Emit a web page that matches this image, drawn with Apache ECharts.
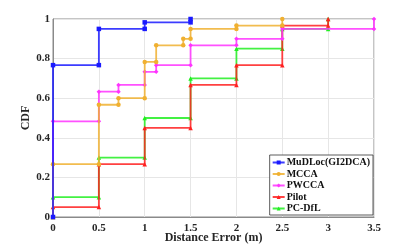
<!DOCTYPE html>
<html><head><meta charset="utf-8">
<script src="https://cdn.jsdelivr.net/npm/echarts@6/dist/echarts.min.js"></script>
<style>html,body{margin:0;padding:0;background:#fff}#c{width:415px;height:244px}</style>
</head><body><div id="c"></div>
<script>
const seriesNames = ['MuDLoc(GI2DCA)', 'MCCA', 'PWCCA', 'Pilot', 'PC-DfL'];
const xTicks = [0, 0.5, 1, 1.5, 2, 2.5, 3, 3.5];
const yTicks = [0, 0.2, 0.4, 0.6, 0.8, 1];
// staircase vertices: x (distance error, m) and y (CDF)
const mudlocX = [0, 0, 0.5, 0.5, 1, 1, 1.5, 1.5];
const mudlocY = [0, 0.767, 0.767, 0.95, 0.95, 0.983, 0.983, 1];
const mccaX = [0, 0, 0.5, 0.5, 0.714, 0.714, 1, 1, 1.125, 1.125, 1.42, 1.42, 1.5, 1.5, 2, 2, 2.5, 2.5];
const mccaY = [0, 0.267, 0.267, 0.567, 0.567, 0.6, 0.6, 0.783, 0.783, 0.867, 0.867, 0.9, 0.9, 0.95, 0.95, 0.967, 0.967, 1];
const pwccaX = [0, 0, 0.5, 0.5, 0.714, 0.714, 1, 1, 1.125, 1.125, 1.5, 1.5, 2, 2, 2.5, 2.5, 3.5, 3.5];
const pwccaY = [0, 0.483, 0.483, 0.633, 0.633, 0.667, 0.667, 0.733, 0.733, 0.767, 0.767, 0.867, 0.867, 0.9, 0.9, 0.95, 0.95, 1];
const pilotX = [0, 0, 0.5, 0.5, 1, 1, 1.5, 1.5, 2, 2, 2.5, 2.5, 3, 3];
const pilotY = [0, 0.05, 0.05, 0.267, 0.267, 0.45, 0.45, 0.667, 0.667, 0.767, 0.767, 0.967, 0.967, 1];
const pcdflX = [0, 0, 0.5, 0.5, 1, 1, 1.5, 1.5, 2, 2, 2.5, 2.5, 3, 3];
const pcdflY = [0, 0.1, 0.1, 0.3, 0.3, 0.5, 0.5, 0.7, 0.7, 0.85, 0.85, 0.95, 0.95, 1];

const colors = ['#1a1aff', '#f0b030', '#ff33ff', '#ff2020', '#22ee22'];
const symbols = ['rect', 'circle', 'diamond', 'triangle', 'triangle'];
const xs = [mudlocX, mccaX, pwccaX, pilotX, pcdflX];
const ys = [mudlocY, mccaY, pwccaY, pilotY, pcdflY];
const order = [4, 3, 2, 1, 0];

const font = '"Liberation Serif","Times New Roman",serif';
const chart = echarts.init(document.getElementById('c'));
const series = order.map(i => ({
  name: seriesNames[i], type: 'line',
  data: xs[i].map((x, k) => [x, ys[i][k]]),
  symbol: symbols[i], symbolSize: 4.5, showSymbol: true,
  lineStyle: {color: colors[i], width: 1.8, opacity: 0.85},
  itemStyle: {color: colors[i]},
  z: 10 - i, animation: false
}));
chart.setOption({
  animation: false,
  grid: {left: 53, right: 41, top: 19, bottom: 27, show: true, borderColor: '#8a8a8a', borderWidth: 1,
         containLabel: false, outerBoundsMode: 'none'},
  xAxis: {
    type: 'value', min: 0, max: 3.5, interval: 0.5,
    name: 'Distance Error (m)', nameLocation: 'middle', nameGap: 15, nameMoveOverlap: false,
    nameTextStyle: {fontFamily: font, fontWeight: 'bold', fontSize: 12, color: '#262626'},
    axisLine: {show: true, lineStyle: {color: '#8a8a8a'}},
    axisTick: {show: false},
    axisLabel: {fontFamily: font, fontWeight: 'bold', fontSize: 11, color: '#262626', margin: 6,
      formatter: v => xTicks.includes(v) ? String(v) : ''},
    splitLine: {show: true, lineStyle: {color: '#e6e6e6'}}
  },
  yAxis: {
    type: 'value', min: 0, max: 1, interval: 0.2,
    name: 'CDF', nameLocation: 'middle', nameGap: 21, nameRotate: 90, nameMoveOverlap: false,
    nameTextStyle: {fontFamily: font, fontWeight: 'bold', fontSize: 12, color: '#262626'},
    axisLine: {show: true, lineStyle: {color: '#8a8a8a'}},
    axisTick: {show: false},
    axisLabel: {fontFamily: font, fontWeight: 'bold', fontSize: 11, color: '#262626', margin: 3,
      formatter: v => yTicks.some(t => Math.abs(t - v) < 1e-9) ? String(Math.round(v * 10) / 10) : ''},
    splitLine: {show: true, lineStyle: {color: '#e6e6e6'}}
  },
  legend: {
    data: seriesNames, orient: 'vertical', right: 42, bottom: 29,
    backgroundColor: '#fff', borderColor: '#333', borderWidth: 0.8, padding: [2, 3, 1, 2],
    itemGap: 0.5, itemWidth: 12, itemHeight: 5,
    textStyle: {fontFamily: font, fontWeight: 'bold', fontSize: 10, color: '#111', padding: [0, 0, 0, -3], lineHeight: 11}
  },
  series: series
});
</script></body></html>
